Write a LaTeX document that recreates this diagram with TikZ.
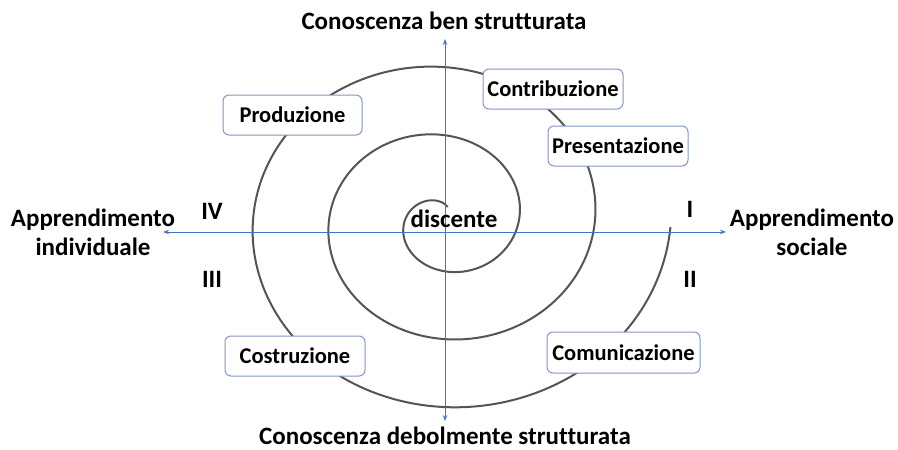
\documentclass[tikz,border=0pt]{standalone}
\usepackage{fontspec}
\setmainfont[Ligatures=NoCommon]{Carlito}
\usetikzlibrary{arrows.meta}
\definecolor{axisblue}{HTML}{4472C4}
\definecolor{spiralgray}{HTML}{555555}
\definecolor{boxborder}{HTML}{8596C8}
\begin{document}
\begin{tikzpicture}[x=1pt,y=-1pt,
  axisline/.style={draw=axisblue, line width=1pt, {Stealth[length=6pt,width=4.5pt]}-{Stealth[length=6pt,width=4.5pt]}},
  spiralline/.style={draw=spiralgray, line width=2pt},
  bigtext/.style={font=\fontsize{25}{29}\selectfont\bfseries, align=center, inner sep=0pt},
  stagebox/.style={draw=boxborder, line width=1pt, fill=white, rounded corners=6pt,
     font=\fontsize{22.5}{26}\selectfont\bfseries, inner sep=0pt, minimum height=40pt}]
  \useasboundingbox (0,0) rectangle (898,450);
  % spiral
  \draw[spiralline] plot[domain=72:1078, samples=500, smooth]
     ({443 + 76*(\x/360)*cos(\x)}, {220 - 68*(\x/360)*sin(\x)});
  % axes
  \coordinate (L) at (163,232);
  \coordinate (R) at (726,232);
  \coordinate (T) at (445,39);
  \coordinate (B) at (445,421);
  \draw[axisline] (L) -- (R);
  \draw[axisline] (T) -- (B);
  % axis labels
  \node[bigtext] (top) at (444,21) {Conoscenza ben strutturata};
  \node[bigtext] (bottom) at (445,436) {Conoscenza debolmente strutturata};
  \node[bigtext] (left) at (93,232) {Apprendimento\\individuale};
  \node[bigtext] (right) at (812,232) {Apprendimento\\sociale};
  \node[bigtext] (q4) at (212,211) {IV};
  \node[bigtext] (q3) at (212,279) {III};
  \node[bigtext] (q1) at (690,209) {I};
  \node[bigtext] (q2) at (690,279) {II};
  \node[bigtext] (center) at (454,219) {discente};
  % stage boxes
  \node[stagebox, minimum width=139pt] (prod) at (292.5,115) {Produzione};
  \node[stagebox, minimum width=140pt] (contr) at (553,89) {Contribuzione};
  \node[stagebox, minimum width=140pt] (pres) at (618,146) {Presentazione};
  \node[stagebox, minimum width=140pt] (costr) at (295,356) {Costruzione};
  \node[stagebox, minimum width=153pt, minimum height=41pt] (comun) at (623.5,352.5) {Comunicazione};
\end{tikzpicture}
\end{document}
